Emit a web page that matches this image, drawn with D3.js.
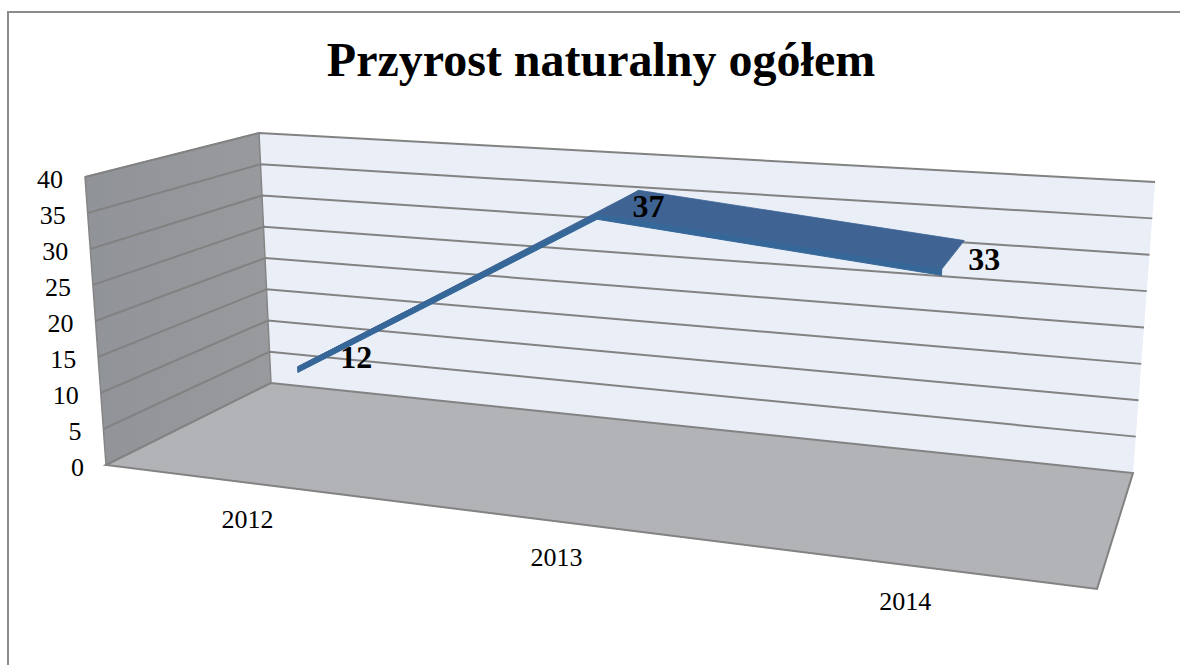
<!DOCTYPE html>
<html>
<head>
<meta charset="utf-8">
<style>
    html, body { margin: 0; background: #fff; }
    text { font-family: "Liberation Serif", serif; fill: #000; }
</style>
<script src="https://cdnjs.cloudflare.com/ajax/libs/d3/7.8.5/d3.min.js"></script>
</head>
<body>
<svg id="chart" width="1180" height="665"></svg>
<script>
    const title = 'Przyrost naturalny ogółem';
    const years = ['2012', '2013', '2014'];
    const values = [12, 37, 33];
    const yTicks = [0, 5, 10, 15, 20, 25, 30, 35, 40];

    const svg = d3.select('#chart');

    // box corners as seen in the picture: front/back, left/right, bottom/top
    const fl = { b: [106, 465], t: [85, 177] };
    const bl = { b: [271, 383], t: [259, 133] };
    const br = { b: [1133, 473], t: [1155, 182] };
    const fr = { b: [1097, 589], t: [1125, 254] };

    const xScale = d3.scalePoint().domain(years).range([0, 1]).padding(0.5);
    const yScale = d3.scaleLinear().domain([0, 40]).range([0, 1]);
    const lerp = (a, b, t) => [a[0] + (b[0] - a[0]) * t, a[1] + (b[1] - a[1]) * t];

    // categories get wider towards the right, perspective of the chart
    const warp = u => u / (u + 1.2 * (1 - u));

    // u along categories, v up, d from front (0) to back (1)
    function project(u, v, d) {
        const w = warp(u);
        const left = lerp(lerp(fl.b, fl.t, v), lerp(bl.b, bl.t, v), d);
        const right = lerp(lerp(fr.b, fr.t, v), lerp(br.b, br.t, v), d);
        return lerp(left, right, w);
    }

    const poly = pts => 'M' + pts.map(p => p.join(',')).join('L') + 'Z';
    const path = d3.line();

    const defs = svg.append('defs');
    const wallGrad = defs.append('linearGradient').attr('id', 'wall');
    wallGrad.append('stop').attr('offset', '0').attr('stop-color', '#909397');
    wallGrad.append('stop').attr('offset', '1').attr('stop-color', '#989a9e');

    // frame of the pasted picture, open at the right and the bottom
    svg.append('path')
        .attr('d', 'M8,665V12H1180')
        .attr('fill', 'none')
        .attr('stroke', '#8c8c8c')
        .attr('stroke-width', 2);

    // walls and floor
    svg.append('path')
        .attr('d', poly([bl.b, bl.t, br.t, br.b]))
        .attr('fill', '#e9eef7');
    svg.append('path')
        .attr('d', poly([fl.b, fl.t, bl.t, bl.b]))
        .attr('fill', 'url(#wall)')
        .attr('stroke', '#858585')
        .attr('stroke-width', 1.5);
    svg.append('path')
        .attr('d', poly([fl.b, bl.b, br.b, fr.b]))
        .attr('fill', '#b1b3b6')
        .attr('stroke', '#828282')
        .attr('stroke-width', 2);

    // grid lines, they bend at the corner of the walls
    svg.append('g').selectAll('path')
        .data(yTicks.filter(t => t > 0))
        .join('path')
        .attr('d', t => {
            const v = yScale(t);
            return path([lerp(fl.b, fl.t, v), lerp(bl.b, bl.t, v), lerp(br.b, br.t, v)]);
        })
        .attr('fill', 'none')
        .attr('stroke', '#828282')
        .attr('stroke-width', 2);

    // ribbon of the 3D line
    const depthFront = 0.365, depthBack = 0.75, edge = 0.02;
    const points = years.map((y, i) => ({ u: xScale(y), v: yScale(values[i]) }));

    d3.pairs(points).forEach(([a, b]) => {
        svg.append('path')
            .attr('d', poly([
                project(a.u, a.v, depthFront), project(b.u, b.v, depthFront),
                project(b.u, b.v - edge, depthFront), project(a.u, a.v - edge, depthFront)
            ]))
            .attr('fill', '#366799')
            .attr('stroke', '#366799');
        svg.append('path')
            .attr('d', poly([
                project(a.u, a.v, depthFront), project(a.u, a.v, depthBack),
                project(b.u, b.v, depthBack), project(b.u, b.v, depthFront)
            ]))
            .attr('fill', '#3f6494')
            .attr('stroke', '#3f6494')
            .attr('stroke-width', 0.8);
    });

    // y axis labels
    svg.append('g').selectAll('text')
        .data(yTicks)
        .join('text')
        .attr('x', t => lerp(fl.b, fl.t, yScale(t))[0] - 22)
        .attr('y', t => lerp(fl.b, fl.t, yScale(t))[1] + 2)
        .attr('dy', '0.35em')
        .attr('text-anchor', 'end')
        .attr('font-size', 26)
        .text(t => t);

    // category labels under the front edge
    svg.append('g').selectAll('text')
        .data(years)
        .join('text')
        .attr('x', y => project(xScale(y), 0, 0)[0])
        .attr('y', y => project(xScale(y), 0, 0)[1] + 36)
        .attr('dy', '0.35em')
        .attr('text-anchor', 'middle')
        .attr('font-size', 26)
        .text(y => y);

    // data labels
    svg.append('g').selectAll('text')
        .data(points)
        .join('text')
        .attr('x', p => project(p.u, p.v, 0.544)[0] + 32)
        .attr('y', p => project(p.u, p.v, 0.544)[1] + 3)
        .attr('dy', '0.35em')
        .attr('text-anchor', 'middle')
        .attr('font-size', 32)
        .attr('font-weight', 'bold')
        .text((p, i) => values[i]);

    svg.append('text')
        .attr('x', 601)
        .attr('y', 76)
        .attr('text-anchor', 'middle')
        .attr('font-size', 48)
        .attr('font-weight', 'bold')
        .text(title);
</script>
</body>
</html>
